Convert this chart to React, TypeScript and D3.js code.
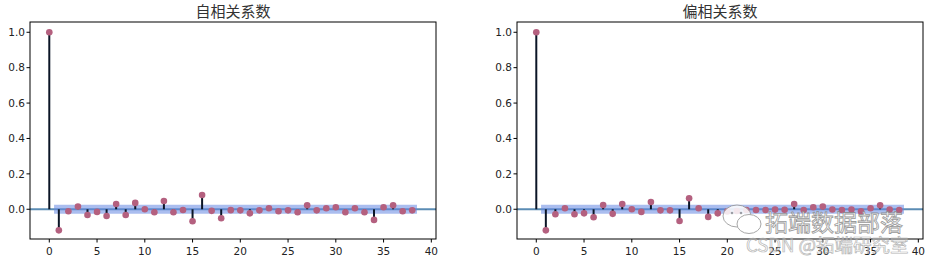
import * as d3 from "d3";

// lags 0..38
const lags = d3.range(0, 39);

const acfValues = [
  1, -0.119, -0.011, 0.015, -0.032, -0.015, -0.038, 0.03, -0.032, 0.036, 0.0,
  -0.017, 0.047, -0.017, -0.004, -0.068, 0.081, -0.009, -0.051, -0.005, -0.006,
  -0.023, -0.006, 0.006, -0.011, -0.006, -0.017, 0.023, -0.006, 0.006, 0.011,
  -0.017, 0.006, -0.017, -0.06, 0.011, 0.023, -0.011, -0.006,
];

const pacfValues = [
  1, -0.119, -0.028, 0.006, -0.028, -0.023, -0.045, 0.024, -0.026, 0.03, 0.0,
  -0.015, 0.041, -0.006, -0.006, -0.066, 0.062, 0.006, -0.043, -0.023, -0.012,
  -0.01, -0.004, -0.004, -0.004, -0.002, -0.003, 0.03, -0.004, 0.011, 0.015,
  -0.001, -0.004, -0.001, -0.012, 0.006, 0.022, -0.001, -0.004,
];

const confBound = 0.025;
const xTicks = [0, 5, 10, 15, 20, 25, 30, 35, 40];
const yTicks = [0.0, 0.2, 0.4, 0.6, 0.8, 1.0];

const W = 933;
const H = 264;
const top = 22;
const bottom = 239;
const tickFont = "'DejaVu Sans', sans-serif";

interface PanelProps {
  left: number;
  right: number;
  title: string;
  values: number[];
}

const Panel = ({ left, right, title, values }: PanelProps) => {
  const x = d3.scaleLinear().domain([-2.02, 40.49]).range([left, right]);
  const y = d3.scaleLinear().domain([-0.168, 1.058]).range([bottom, top]);

  // confidence band from lag 0.5 to last lag + 0.5
  const bandX = [0.5, ...lags.slice(1, -1), lags[lags.length - 1] + 0.5];
  const area = d3
    .area<number>()
    .x((d) => x(d))
    .y0(y(-confBound))
    .y1(y(confBound));

  return (
    <g>
      <text
        x={(left + right) / 2}
        y={17}
        textAnchor="middle"
        fontSize={15}
        fill="#333"
        fontFamily="'Noto Sans CJK SC', sans-serif"
      >
        {title}
      </text>
      <line x1={left} x2={right} y1={y(0)} y2={y(0)} stroke="#5b8cb4" strokeWidth={1.8} />
      <path d={area(bandX) ?? ""} fill="rgb(100,135,225)" fillOpacity={0.55} />
      {lags.map((l) => (
        <line
          key={"s" + l}
          x1={x(l)}
          x2={x(l)}
          y1={y(0)}
          y2={y(values[l])}
          stroke="#0b1526"
          strokeWidth={2}
        />
      ))}
      {lags.map((l) => (
        <circle key={"m" + l} cx={x(l)} cy={y(values[l])} r={3.3} fill="#b4607f" />
      ))}
      <rect
        x={left}
        y={top}
        width={right - left}
        height={bottom - top}
        fill="none"
        stroke="#000"
        strokeWidth={1}
      />
      {xTicks.map((t) => (
        <g key={"x" + t} transform={`translate(${x(t)},${bottom})`}>
          <line y2={3.5} stroke="#000" />
          <text y={16} textAnchor="middle" fontSize={10.5} fill="#222" fontFamily={tickFont}>
            {t}
          </text>
        </g>
      ))}
      {yTicks.map((t) => (
        <g key={"y" + t} transform={`translate(${left},${y(t)})`}>
          <line x2={-3.5} stroke="#000" />
          <text x={-5} dy="0.35em" textAnchor="end" fontSize={10.5} fill="#222" fontFamily={tickFont}>
            {t.toFixed(1)}
          </text>
        </g>
      ))}
    </g>
  );
};

const Watermark = () => (
  <g opacity={0.85}>
    <ellipse cx={737} cy={216} rx={14} ry={11} fill="#fff" stroke="#999" strokeWidth={1} />
    <ellipse cx={749} cy={224} rx={12} ry={9.5} fill="#fff" stroke="#999" strokeWidth={1} />
    <circle cx={732} cy={213} r={1.3} fill="#999" />
    <circle cx={741} cy={213} r={1.3} fill="#999" />
    <text
      x={765}
      y={231}
      fontSize={23}
      fill="#fff"
      stroke="#888"
      strokeWidth={0.8}
      fontFamily="'Noto Sans CJK SC', sans-serif"
    >
      拓端数据部落
    </text>
    <text
      x={746}
      y={252}
      fontSize={18.5}
      fill="#fff"
      fillOpacity={0.3}
      stroke="#aaa"
      strokeWidth={0.7}
      fontFamily="'Noto Sans CJK SC', sans-serif"
    >
      CSDN @拓端研究室
    </text>
  </g>
);

const App = () => (
  <svg
    width={W}
    height={H}
    style={{ position: "absolute", left: 0, top: 0, background: "#fff" }}
  >
    <Panel left={30} right={436} title="自相关系数" values={acfValues} />
    <Panel left={517} right={923} title="偏相关系数" values={pacfValues} />
    <Watermark />
  </svg>
);

export default App;
